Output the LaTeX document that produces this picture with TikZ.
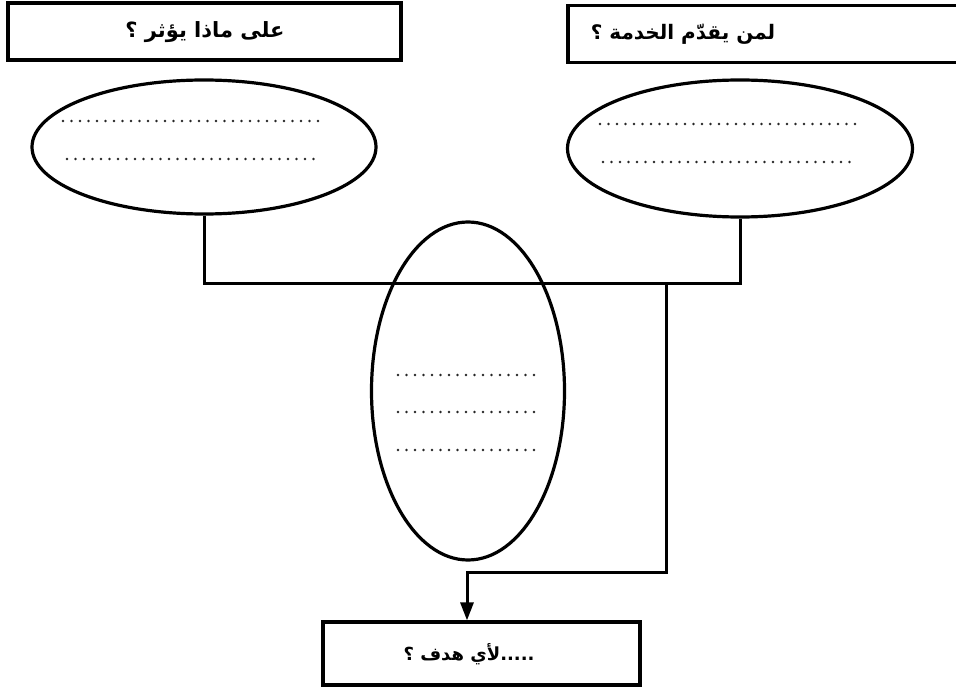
\documentclass[tikz,border=0pt]{standalone}
\usepackage{fontspec}
\setmainfont{Liberation Sans}
\newfontfamily\arabicfont[Script=Arabic]{DejaVu Sans}
\TeXXeTstate=1
\usetikzlibrary{shapes.geometric,arrows.meta}
\begin{document}
\begin{tikzpicture}[x=1pt,y=-1pt,
  qbox/.style={draw,line width=3.2pt,rectangle,inner sep=0pt},
  oval/.style={draw,line width=3.2pt,ellipse,inner sep=0pt},
  qtext/.style={font=\arabicfont\bfseries\fontsize{21}{23}\selectfont,inner sep=0pt},
  blank/.style={line width=2.6pt,line cap=round,dash pattern=on 0pt off 8.5pt,black!85},
  link/.style={line width=3pt}]
\useasboundingbox (0,0) rectangle (956,690);
\fill[white] (0,0) rectangle (956,690);
% boxes
\node[qbox,minimum width=393pt,minimum height=57pt] (tl) at (204.5,31.5) {};
\node[qtext] (tlt) at (205,32) {\beginR على ماذا يؤثر ؟\endR};
\node[qbox,minimum width=396pt,minimum height=57pt] (tr) at (766,34) {};
\node[qtext,font=\arabicfont\bfseries\fontsize{20}{22}\selectfont] (trt) at (683,34) {\beginR لمن يقدّم الخدمة ؟\endR};
\node[qbox,minimum width=317pt,minimum height=63pt] (bt) at (481.5,653.5) {};
\node[qtext,font=\arabicfont\bfseries\fontsize{18}{20}\selectfont] (btt) at (469,654) {\beginR .....\kern0pt لأي هدف ؟\endR};
% ellipses
\node[oval,minimum width=344pt,minimum height=134pt] (le) at (204,147) {};
\node[oval,minimum width=345pt,minimum height=137pt] (re) at (740,148.5) {};
\node[oval,minimum width=193pt,minimum height=338pt] (me) at (468,391) {};
% dotted answer lines
\draw[blank] (63,121) -- (318,121);
\draw[blank] (67,159) -- (315,159);
\draw[blank] (600,124) -- (855,124);
\draw[blank] (603,162) -- (851,162);
\draw[blank] (398,375) -- (538,375);
\draw[blank] (398,412) -- (538,412);
\draw[blank] (398,450) -- (538,450);
% connectors
\coordinate (jl) at (204,283);
\coordinate (jr) at (740,283);
\coordinate (jm) at (666,283);
\coordinate (jd) at (666,572);
\coordinate (ja) at (467,572);
\draw[link] (le.south) -- (jl) -- (jr) -- (re.south);
\draw[link,-{Triangle[length=18pt,width=13pt]}] (jm) -- (jd) -- (ja) -- (ja |- bt.north);
\end{tikzpicture}
\end{document}
